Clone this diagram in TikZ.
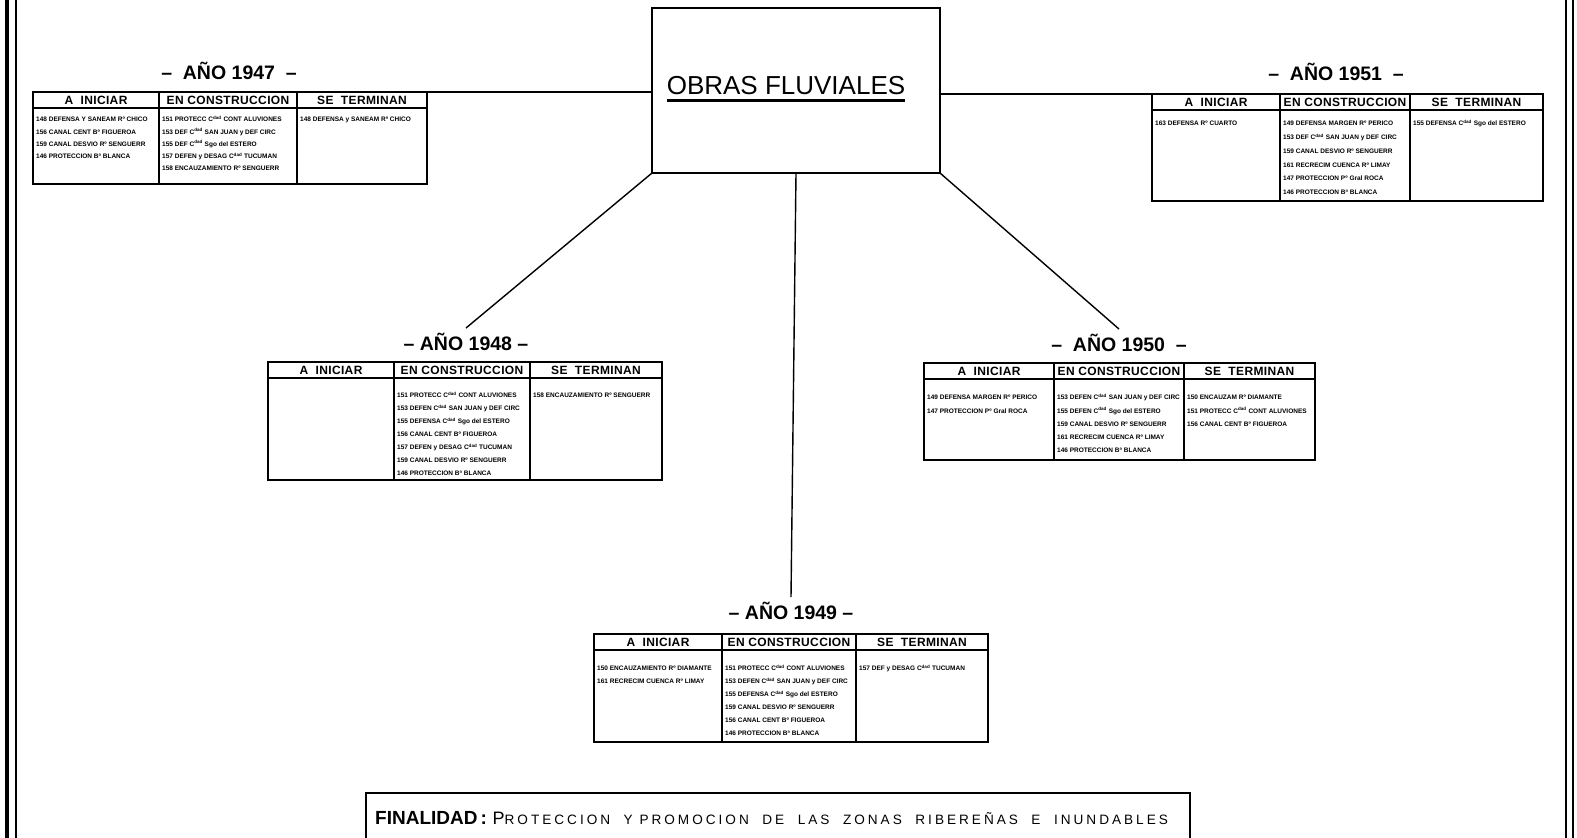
\documentclass[tikz,border=0pt]{standalone}
\usepackage{fontspec}
\setmainfont{Liberation Sans}
\newfontfamily\hdrfont[LetterSpace=3]{Liberation Sans}
\newfontfamily\spacedfont[LetterSpace=22]{Liberation Sans}
\newcommand\sps[1]{\smash{\textsuperscript{#1}}}
\newcommand\yrtable[7]{%
  \node[tframe, minimum width=#4pt, minimum height=#5pt, anchor=north west] (#1) at (#2,#3) {};
  \draw[line width=1.6pt] ([yshift=-16pt]#1.north west) -- ([yshift=-16pt]#1.north east);
  \draw[line width=1.6pt] ([xshift=#6pt]#1.north west) -- ([xshift=#6pt]#1.south west);
  \draw[line width=1.6pt] ([xshift={(#6+#7)*1pt}]#1.north west) -- ([xshift={(#6+#7)*1pt}]#1.south west);
  \node[hdr] (#1h1) at ([xshift={#6*0.5pt}, yshift=-8pt]#1.north west) {A\ \ INICIAR};
  \node[hdr] (#1h2) at ([xshift={(#6+0.5*#7)*1pt}, yshift=-8pt]#1.north west) {EN CONSTRUCCION};
  \node[hdr] (#1h3) at ([xshift={(#6+#7+0.5*(#4-#6-#7))*1pt}, yshift=-8pt]#1.north west) {SE\ \ TERMINAN};
}
\begin{document}
\begin{tikzpicture}[x=1pt,y=-1pt,
  tframe/.style={draw, line width=1.6pt, inner sep=0pt, outer sep=0pt},
  hdr/.style={font=\hdrfont\bfseries\fontsize{12}{12}\selectfont, inner sep=0pt},
  entry/.style={font=\bfseries\fontsize{6.5}{#1}\selectfont, align=left, inner sep=0pt, anchor=north west},
  ytitle/.style={font=\bfseries\fontsize{19.5}{20}\selectfont, inner sep=5pt},
  conn/.style={line width=1.4pt},
  border/.style={line width=#1},
]
\useasboundingbox (0,0) rectangle (1577,838);

% page borders
\draw[border=3.2pt] (7,0) -- (7,838);
\draw[border=2.4pt] (16,0) -- (16,838);
\draw[border=2.4pt] (1566,0) -- (1566,838);
\draw[border=2.4pt] (1573,0) -- (1573,838);

% central box
\node[draw, line width=1.8pt, minimum width=288pt, minimum height=165pt, inner sep=0pt, outer sep=0pt, anchor=north west] (obras) at (652,8) {};
\node[inner sep=0pt, font=\fontsize{26}{26}\selectfont] (otext) at (786,86) {OBRAS\ FLUVIALES};
\draw[line width=2.6pt] ([yshift=-5pt]otext.south west) -- ([yshift=-5pt]otext.south east);

% titles
\node[ytitle] (y47) at (229,71) {–\ \ AÑO 1947\ \ –};
\node[ytitle] (y51) at (1336,72) {–\ \ AÑO 1951\ \ –};
\node[ytitle] (y48) at (466,342) {–\ AÑO 1948\ –};
\node[ytitle] (y50) at (1119,343) {–\ \ AÑO 1950\ \ –};
\node[ytitle] (y49) at (791,611) {–\ AÑO 1949\ –};

% tables
\yrtable{t47}{33}{92}{394}{92}{126}{138}
\yrtable{t51}{1152}{94}{391}{107}{128}{130}
\yrtable{t48}{268}{362}{394}{118}{126}{136}
\yrtable{t50}{924}{363}{391}{97}{130}{130}
\yrtable{t49}{594}{634}{394}{108}{128}{134}

% connectors
\draw[conn] (t47.north east) -- (t47.north east -| obras.west);
\draw[conn] (t51.north west) -- (t51.north west -| obras.east);
\draw[conn] (obras.south west) -- (y48.north);
\draw[conn] (obras.south) -- (y49.north);
\draw[conn] (obras.south east) -- (y50.north);

% 1947 entries
\node[entry=12.3] (e47a) at ([xshift=3pt, yshift=-25pt]t47.north west) {148 DEFENSA Y SANEAM Rº CHICO\\156 CANAL CENT Bº FIGUEROA\\159 CANAL DESVIO Rº SENGUERR\\146 PROTECCION Bª BLANCA};
\node[entry=12.3] (e47b) at ([xshift=129pt, yshift=-25pt]t47.north west) {151 PROTECC C\sps{dad} CONT ALUVIONES\\153 DEF C\sps{dad} SAN JUAN y DEF CIRC\\155 DEF C\sps{dad} Sgo del ESTERO\\157 DEFEN y DESAG C\sps{dad} TUCUMAN\\158 ENCAUZAMIENTO Rº SENGUERR};
\node[entry=12.3] (e47c) at ([xshift=267pt, yshift=-25pt]t47.north west) {148 DEFENSA y SANEAM Rº CHICO};

% 1951 entries
\node[entry=13.8] (e51a) at ([xshift=3pt, yshift=-27pt]t51.north west) {163 DEFENSA Rº CUARTO};
\node[entry=13.8] (e51b) at ([xshift=131pt, yshift=-27pt]t51.north west) {149 DEFENSA MARGEN Rº PERICO\\153 DEF C\sps{dad} SAN JUAN y DEF CIRC\\159 CANAL DESVIO Rº SENGUERR\\161 RECRECIM CUENCA Rº LIMAY\\147 PROTECCION Pº Gral ROCA\\146 PROTECCION Bª BLANCA};
\node[entry=13.8] (e51c) at ([xshift=261pt, yshift=-27pt]t51.north west) {155 DEFENSA C\sps{dad} Sgo del ESTERO};

% 1948 entries
\node[entry=13] (e48b) at ([xshift=129pt, yshift=-31pt]t48.north west) {151 PROTECC C\sps{dad} CONT ALUVIONES\\153 DEFEN C\sps{dad} SAN JUAN y DEF CIRC\\155 DEFENSA C\sps{dad} Sgo del ESTERO\\156 CANAL CENT Bº FIGUEROA\\157 DEFEN y DESAG C\sps{dad} TUCUMAN\\159 CANAL DESVIO Rº SENGUERR\\146 PROTECCION Bª BLANCA};
\node[entry=13] (e48c) at ([xshift=265pt, yshift=-31pt]t48.north west) {158 ENCAUZAMIENTO Rº SENGUERR};

% 1950 entries
\node[entry=13.3] (e50a) at ([xshift=3pt, yshift=-32pt]t50.north west) {149 DEFENSA MARGEN Rº PERICO\\147 PROTECCION Pº Gral ROCA};
\node[entry=13.3] (e50b) at ([xshift=133pt, yshift=-32pt]t50.north west) {153 DEFEN C\sps{dad} SAN JUAN y DEF CIRC\\155 DEFEN C\sps{dad} Sgo del ESTERO\\159 CANAL DESVIO Rº SENGUERR\\161 RECRECIM CUENCA Rº LIMAY\\146 PROTECCION Bª BLANCA};
\node[entry=13.3] (e50c) at ([xshift=263pt, yshift=-32pt]t50.north west) {150 ENCAUZAM Rº DIAMANTE\\151 PROTECC C\sps{dad} CONT ALUVIONES\\156 CANAL CENT Bº FIGUEROA};

% 1949 entries
\node[entry=13] (e49a) at ([xshift=3pt, yshift=-32pt]t49.north west) {150 ENCAUZAMIENTO Rº DIAMANTE\\161 RECRECIM CUENCA Rº LIMAY};
\node[entry=13] (e49b) at ([xshift=131pt, yshift=-32pt]t49.north west) {151 PROTECC C\sps{dad} CONT ALUVIONES\\153 DEFEN C\sps{dad} SAN JUAN y DEF CIRC\\155 DEFENSA C\sps{dad} Sgo del ESTERO\\159 CANAL DESVIO Rº SENGUERR\\156 CANAL CENT Bº FIGUEROA\\146 PROTECCION Bª BLANCA};
\node[entry=13] (e49c) at ([xshift=265pt, yshift=-32pt]t49.north west) {157 DEF y DESAG C\sps{dad} TUCUMAN};

% finalidad
\draw[line width=1.8pt] (366,838) -- (366,793) -- (1190,793) -- (1190,838);
\node[anchor=base west, inner sep=0pt] (fin) at (375,824) {{\bfseries\fontsize{19}{19}\selectfont FINALIDAD\,:}\ \ {\spacedfont\fontsize{18}{18}\selectfont P}{\spacedfont\fontsize{13.6}{14}\selectfont ROTECCION\ \ Y\ PROMOCION\ \ DE\ \ LAS\ \ ZONAS\ \ RIBEREÑAS\ \ E\ \ INUNDABLES}};
\end{tikzpicture}
\end{document}
